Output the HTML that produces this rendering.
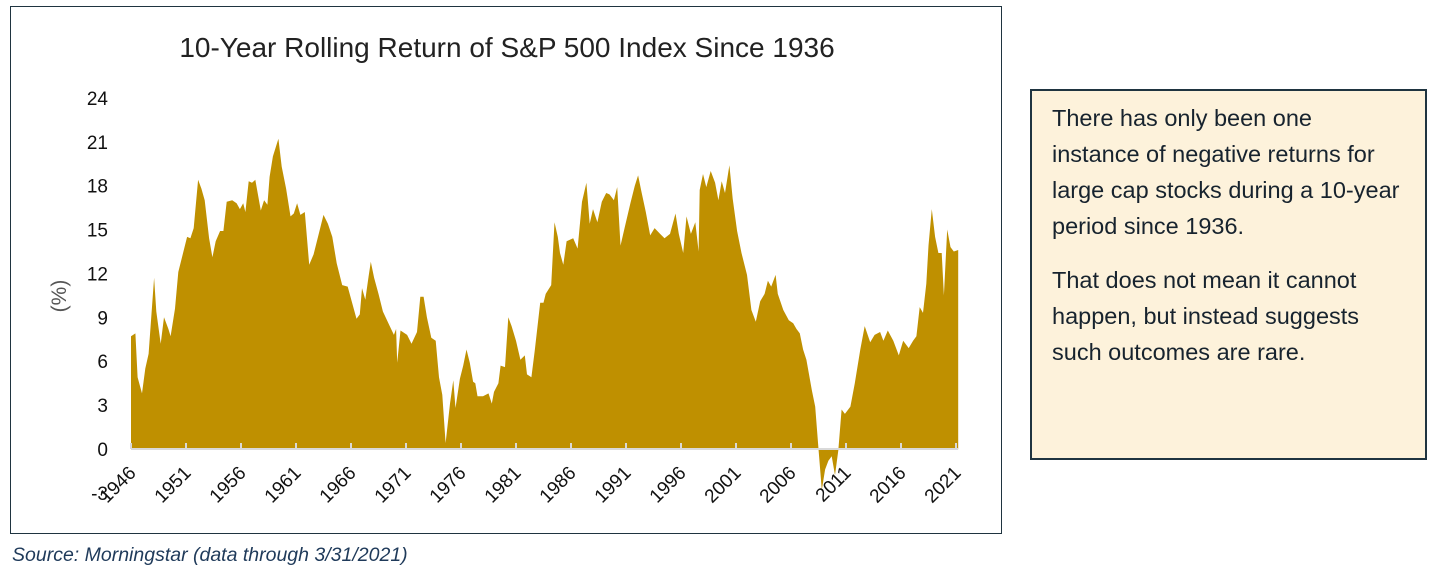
<!DOCTYPE html>
<html><head><meta charset="utf-8"><style>
body{margin:0;width:1434px;height:571px;background:#fff;position:relative;overflow:hidden;font-family:"Liberation Sans",sans-serif}
#chart-frame{position:absolute;left:10px;top:6px;width:992px;height:528px;border:1.5px solid #1f3440;box-sizing:border-box}
#note{position:absolute;left:1030px;top:89px;width:397px;height:371px;box-sizing:border-box;border:2px solid #1f3440;background:#fdf2db;color:#17232e;font-size:23.5px;padding:9px 0 0 20px}
#note div{white-space:nowrap;height:36px;line-height:36px}
#source{position:absolute;left:12px;top:544px;font-style:italic;color:#1f3a5a;font-size:19.5px}
</style></head><body>
<div id="chart-frame"></div>
<svg id="chart" width="1434" height="571" style="position:absolute;left:0;top:0"></svg>
<div id="note">
<div>There has only been one</div>
<div>instance of negative returns for</div>
<div>large cap stocks during a 10-year</div>
<div>period since 1936.</div>
<div style="height:18px"></div>
<div>That does not mean it cannot</div>
<div>happen, but instead suggests</div>
<div>such outcomes are rare.</div>
</div>
<div id="source">Source: Morningstar (data through 3/31/2021)</div>
<script>
const years=[1946.0,1946.4,1946.6,1947.0,1947.3,1947.6,1948.1,1948.3,1948.7,1949.0,1949.4,1949.6,1950.0,1950.3,1951.1,1951.4,1951.7,1952.1,1952.4,1952.7,1953.1,1953.4,1953.7,1954.1,1954.4,1954.7,1955.2,1955.6,1955.9,1956.2,1956.4,1956.7,1957.0,1957.3,1957.8,1958.1,1958.4,1958.6,1958.9,1959.4,1959.7,1960.1,1960.5,1960.8,1961.1,1961.4,1961.8,1962.2,1962.6,1963.0,1963.5,1963.9,1964.3,1964.7,1965.2,1965.7,1966.1,1966.5,1966.8,1967.0,1967.3,1967.6,1967.8,1968.1,1968.5,1968.9,1969.4,1969.9,1970.1,1970.2,1970.5,1971.1,1971.5,1972.0,1972.3,1972.6,1972.9,1973.3,1973.7,1974.0,1974.3,1974.6,1975.0,1975.3,1975.5,1975.9,1976.2,1976.5,1976.8,1977.1,1977.3,1977.5,1978.0,1978.5,1978.8,1979.0,1979.4,1979.6,1980.0,1980.3,1980.6,1981.0,1981.4,1981.8,1982.0,1982.4,1982.7,1983.2,1983.5,1983.7,1984.2,1984.5,1984.8,1985.0,1985.3,1985.6,1985.9,1986.2,1986.6,1987.0,1987.4,1987.7,1988.0,1988.4,1988.8,1989.2,1989.5,1989.9,1990.2,1990.5,1990.9,1991.4,1991.8,1992.1,1992.4,1992.8,1993.2,1993.6,1994.1,1994.5,1995.0,1995.5,1995.8,1996.2,1996.5,1996.9,1997.3,1997.6,1997.7,1998.0,1998.3,1998.7,1999.1,1999.4,1999.7,2000.0,2000.4,2000.7,2001.1,2001.5,2002.0,2002.4,2002.8,2003.2,2003.6,2003.9,2004.2,2004.6,2004.8,2005.3,2005.8,2006.2,2006.5,2006.8,2007.1,2007.4,2007.9,2008.2,2008.5,2008.8,2009.1,2009.4,2009.7,2010.0,2010.3,2010.6,2010.9,2011.4,2011.8,2012.3,2012.7,2013.2,2013.6,2014.1,2014.4,2014.8,2015.3,2015.8,2016.2,2016.7,2017.1,2017.4,2017.7,2018.0,2018.3,2018.5,2018.8,2019.1,2019.4,2019.7,2019.9,2020.2,2020.5,2020.8,2021.2];
const returns=[7.7,7.9,4.9,3.8,5.5,6.5,11.7,9.4,7.2,9.0,8.2,7.7,9.6,12.1,14.5,14.4,15.1,18.4,17.8,17.0,14.4,13.1,14.2,14.9,14.9,16.9,17.0,16.8,16.4,16.8,16.2,18.3,18.2,18.4,16.3,17.0,16.7,18.6,20.0,21.2,19.3,17.8,15.9,16.1,16.8,16.0,16.2,12.6,13.3,14.5,16.0,15.4,14.5,12.7,11.2,11.1,10.0,8.9,9.2,11.0,10.2,11.8,12.8,11.7,10.6,9.4,8.6,7.8,8.2,5.9,8.1,7.8,7.2,8.0,10.4,10.4,9.0,7.6,7.4,4.9,3.7,0.4,3.1,4.7,2.8,4.8,5.7,6.8,5.9,4.6,4.5,3.6,3.6,3.8,3.1,3.9,4.5,5.7,5.6,9.0,8.4,7.4,6.1,6.4,5.1,4.9,6.7,10.0,10.0,10.6,11.2,15.5,14.5,13.4,12.6,14.2,14.3,14.4,13.7,16.9,18.2,15.4,16.4,15.5,16.9,17.5,17.4,17.0,17.9,13.9,15.2,16.8,18.0,18.7,17.6,16.2,14.6,15.1,14.7,14.4,14.7,16.1,14.7,13.4,15.9,14.7,15.5,13.5,17.7,18.8,17.9,19.0,18.2,17.0,18.3,17.5,19.4,17.1,14.9,13.4,11.9,9.5,8.7,10.1,10.6,11.5,11.1,11.9,10.6,9.5,8.8,8.6,8.2,7.9,6.8,6.1,4.0,2.9,0.0,-2.8,-1.4,-0.8,-0.5,-1.8,-0.1,2.7,2.4,2.9,4.5,6.8,8.4,7.3,7.8,8.0,7.4,8.1,7.4,6.4,7.4,6.9,7.4,7.7,9.7,9.3,11.3,13.9,16.4,14.5,13.4,13.4,10.5,15.0,13.8,13.5,13.6];
const yTicks=[24,21,18,15,12,9,6,3,0,-3];
const xTicks=[1946,1951,1956,1961,1966,1971,1976,1981,1986,1991,1996,2001,2006,2011,2016,2021];
const svg=document.getElementById('chart');
const NS='http://www.w3.org/2000/svg';
const X=v=>131+(v-1946)*11;
const Y=v=>449-v*14.63;
function mk(t,a){const e=document.createElementNS(NS,t);for(const k in a)e.setAttribute(k,a[k]);svg.appendChild(e);return e;}
let t=mk('text',{x:507,y:57,'text-anchor':'middle','font-size':28,fill:'#222'});t.textContent='10-Year Rolling Return of S&P 500 Index Since 1936';


let d='M'+X(years[0])+','+Y(0);
years.forEach((yr,i)=>{d+=' L'+X(yr).toFixed(1)+','+Y(returns[i]).toFixed(1);});
d+=' L'+X(years[years.length-1])+','+Y(0)+' Z';
const area=mk('path',{d:d,fill:'#bf9000'});


const ax=mk('line',{x1:X(1946),x2:X(2021.2),y1:Y(0),y2:Y(0),stroke:'#d9d9d9','stroke-width':2});


yTicks.forEach(v=>{const e=mk('text',{x:108,y:Y(v)+7,'text-anchor':'end','font-size':19,fill:'#111'});e.textContent=v;

});
xTicks.forEach(v=>{const tk=mk('line',{x1:X(v),x2:X(v),y1:Y(0)-6,y2:Y(0),stroke:'#d9d9d9','stroke-width':2});


const xx=X(v)+6,yy=474;const e=mk('text',{x:xx,y:yy,'text-anchor':'end','font-size':19,fill:'#111',transform:`rotate(-45 ${xx} ${yy})`});e.textContent=v;

});
const yl=mk('text',{x:66,y:296,'text-anchor':'middle','font-size':21,fill:'#555',transform:'rotate(-90 66 296)'});yl.textContent='(%)';


</script>
</body></html>
